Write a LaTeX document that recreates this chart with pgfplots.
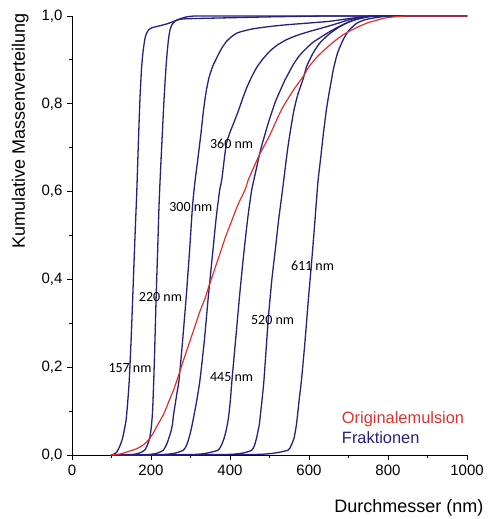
\documentclass[border=0pt]{standalone}
\usepackage{fontspec}
\setmainfont{Liberation Sans}
\newfontfamily\calib{Carlito}
\usepackage{pgfplots}
\pgfplotsset{compat=1.18}

\definecolor{frak}{RGB}{38,32,128}
\definecolor{orig}{RGB}{222,48,48}

\begin{document}
\begin{tikzpicture}
\path[use as bounding box] (0,0) rectangle (489bp,519bp);
\begin{axis}[
    at={(72bp,64bp)}, anchor=south west,
    width=395bp, height=439bp, scale only axis,
    xmin=0, xmax=1000, ymin=0, ymax=1,
    clip=false,
    axis x line*=bottom, axis y line*=left,
    axis line style={line width=0.9bp, black},
    tick align=outside,
    major tick length=5bp, minor tick length=2.5bp,
    tick style={line width=0.8bp, black},
    xtick={0,200,...,1000}, minor x tick num=1,
    ytick={0,0.2,0.4,0.6,0.8,1}, minor y tick num=1,
    scaled ticks=false,
    tick label style={font=\fontsize{15bp}{18bp}\selectfont},
    xticklabel style={yshift=-2bp, /pgf/number format/.cd, 1000 sep={}, assume math mode=true},
    yticklabel style={xshift=-1bp, /pgf/number format/.cd, fixed, fixed zerofill, precision=1, use comma, assume math mode=true},
    xlabel={Durchmesser (nm)},
    ylabel={Kumulative Massenverteilung},
    label style={font=\fontsize{18bp}{21bp}\selectfont},
    xlabel style={at={(axis description cs:1.0506,-0.132)}, anchor=base east},
    ylabel style={at={(axis description cs:-0.119,0.738)}, anchor=base},
    frakline/.style={frak, line width=1.3bp, line join=round, smooth, tension=0.35},
]
% 157 nm
\addplot[frakline] coordinates {
 (100,0)(112,0.005)(120,0.018)(127,0.035)(132,0.055)(137,0.08)(141,0.12)(145,0.171)
 (150,0.27)(155,0.39)(160,0.51)(164,0.6)(168,0.71)(172,0.81)(176,0.88)(180,0.92)
 (185,0.95)(190,0.963)(196,0.970)(205,0.974)(214,0.976)(228,0.979)(240,0.982)
 (250,0.985)(261,0.989)(275,0.994)(290,0.998)(310,1)(330,1)(360,1)(400,1)(500,1)(1000,1)};
% 220 nm
\addplot[frakline] coordinates {
 (100,0)(150,0.001)(165,0.003)(175,0.006)(185,0.012)(192,0.025)(197,0.04)(201,0.065)
 (204,0.1)(207,0.171)(210,0.26)(213,0.36)(217,0.47)(220,0.56)(223,0.626)(228,0.72)
 (233,0.81)(237,0.87)(240,0.907)(244,0.945)(248,0.968)(252,0.978)(256,0.984)
 (262,0.989)(270,0.992)(285,0.9935)(300,0.994)(350,0.995)(400,0.996)(500,0.998)
 (600,0.9995)(650,1)(700,1)(800,1)(1000,1)};
% 300 nm
\addplot[frakline] coordinates {
 (100,0)(190,0.001)(215,0.004)(231,0.011)(240,0.025)(245,0.038)(250,0.052)(254,0.068)
 (257,0.091)(262,0.12)(267,0.148)(271,0.171)(280,0.26)(290,0.37)(298,0.47)(305,0.566)
 (311,0.62)(318,0.67)(326,0.729)(333,0.786)(340,0.83)(347,0.86)(356,0.885)(366,0.904)
 (378,0.925)(391,0.942)(404,0.953)(417,0.961)(435,0.966)(459,0.971)(500,0.976)
 (543,0.980)(600,0.984)(653,0.988)(700,0.994)(729,0.997)(760,1)(790,1)(850,1)(1000,1)};
% 360 nm
\addplot[frakline] coordinates {
 (100,0)(225,0.001)(260,0.004)(282,0.011)(290,0.022)(296,0.038)(300,0.052)(304,0.068)
 (309,0.091)(316,0.125)(324,0.171)(335,0.26)(345,0.36)(355,0.45)(365,0.54)(374,0.604)
 (379,0.626)(385,0.67)(391,0.71)(400,0.735)(411,0.76)(422,0.786)(432,0.812)(442,0.836)
 (453,0.858)(467,0.882)(484,0.903)(501,0.920)(520,0.934)(543,0.946)(570,0.956)
 (602,0.965)(630,0.972)(661,0.980)(700,0.991)(729,0.997)(760,1)(790,1)(850,1)(1000,1)};
% 445 nm
\addplot[frakline] coordinates {
 (100,0)(300,0.001)(340,0.004)(370,0.011)(378,0.022)(385,0.038)(390,0.055)(393,0.068)
 (397,0.091)(401,0.125)(405,0.171)(415,0.27)(425,0.37)(435,0.46)(445,0.54)(455,0.604)
 (465,0.645)(476,0.69)(488,0.729)(500,0.765)(515,0.805)(530,0.836)(539,0.854)
 (560,0.889)(576,0.91)(594,0.927)(610,0.94)(627,0.950)(648,0.962)(670,0.973)
 (695,0.984)(720,0.992)(750,0.998)(780,1)(810,1)(870,1)(1000,1)};
% 520 nm
\addplot[frakline] coordinates {
 (100,0)(380,0.001)(430,0.004)(455,0.011)(462,0.022)(467,0.038)(471,0.055)(474,0.068)
 (477,0.091)(481,0.125)(486,0.171)(497,0.311)(506,0.40)(515,0.47)(523,0.535)(531,0.59)
 (536,0.626)(542,0.67)(548,0.71)(555,0.75)(562,0.786)(572,0.822)(585,0.856)(594,0.885)
 (610,0.915)(627,0.938)(650,0.958)(678,0.976)(705,0.988)(729,0.995)(760,1)(790,1)
 (850,1)(1000,1)};
% 611 nm
\addplot[frakline] coordinates {
 (100,0)(450,0.001)(510,0.004)(547,0.011)(555,0.022)(562,0.038)(565,0.052)(568,0.068)
 (571,0.091)(575,0.125)(581,0.171)(590,0.26)(598,0.35)(606,0.433)(613,0.51)(619,0.581)
 (623,0.626)(630,0.68)(636,0.729)(644,0.786)(650,0.82)(656,0.85)(662,0.88)(672,0.915)
 (686,0.945)(700,0.966)(720,0.983)(740,0.991)(761,0.995)(790,0.999)(810,1)(840,1)
 (900,1)(1000,1)};
% Originalemulsion
\addplot[orig, line width=1.2bp, line join=round, smooth, tension=0.4] coordinates {
 (98,0)(120,0.002)(143,0.008)(160,0.013)(176,0.02)(187,0.028)(197,0.038)(206,0.05)
 (214,0.064)(222,0.077)(231,0.091)(240,0.11)(250,0.133)(258,0.15)(266,0.171)(280,0.21)
 (295,0.25)(310,0.29)(325,0.33)(337,0.357)(345,0.38)(360,0.42)(375,0.46)(390,0.50)
 (405,0.535)(420,0.57)(438,0.604)(446,0.626)(460,0.655)(475,0.685)(490,0.71)(501,0.729)
 (515,0.757)(530,0.786)(547,0.812)(564,0.836)(585,0.862)(602,0.887)(622,0.908)
 (644,0.927)(665,0.943)(686,0.957)(708,0.968)(729,0.977)(750,0.985)(770,0.99)
 (790,0.995)(805,0.997)(830,0.999)(850,1)(880,1)(930,1)(1000,1)};

\begin{scope}[every node/.style={font=\calib\fontsize{14bp}{16bp}\selectfont, inner sep=0pt, anchor=base west}]
\node at (axis cs:92,0.188) {157 nm};
\node at (axis cs:169,0.349) {220 nm};
\node at (axis cs:246,0.554) {300 nm};
\node at (axis cs:349,0.699) {360 nm};
\node at (axis cs:349,0.167) {445 nm};
\node at (axis cs:453,0.298) {520 nm};
\node at (axis cs:554,0.420) {611 nm};
\end{scope}
\node[font=\fontsize{16.4bp}{19bp}\selectfont, text=orig, inner sep=0pt, anchor=base west] at (axis cs:683,0.072) {Originalemulsion};
\node[font=\fontsize{16.4bp}{19bp}\selectfont, text=frak, inner sep=0pt, anchor=base west] at (axis cs:683,0.027) {Fraktionen};
\end{axis}
\end{tikzpicture}
\end{document}
